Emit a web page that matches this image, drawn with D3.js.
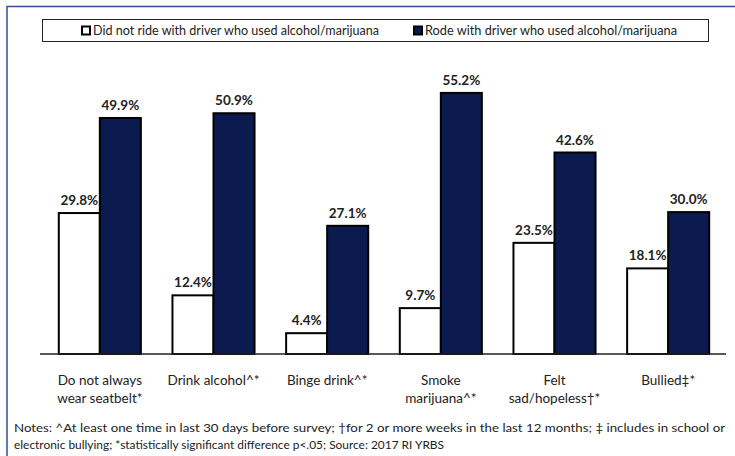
<!DOCTYPE html>
<html>
<head>
<meta charset="utf-8">
<script src="https://cdn.jsdelivr.net/npm/d3@7"></script>
<style>
  body { margin: 0; background: #fff; }
  svg { display: block; font-family: Lato, "Open Sans", sans-serif; }
</style>
</head>
<body>
<svg id="chart" width="735" height="456"></svg>
<script>
// Data
const categories = [
    ['Do not always', 'wear seatbelt*'],
    ['Drink alcohol^*'],
    ['Binge drink^*'],
    ['Smoke', 'marijuana^*'],
    ['Felt', 'sad/hopeless\u2020*'],
    ['Bullied\u2021*']
];
const seriesNames = ['Did not ride with driver who used alcohol/marijuana',
                     'Rode with driver who used alcohol/marijuana'];
const didNotRide = [29.8, 12.4, 4.4, 9.7, 23.5, 18.1];
const rodeWith = [49.9, 50.9, 27.1, 55.2, 42.6, 30.0];
const notes = [
    'Notes:  ^At least one time in last 30 days before survey; \u2020for 2 or more weeks in the last 12 months; \u2021 includes in school or',
    'electronic bullying; *statistically significant difference p<.05; Source: 2017 RI YRBS'
];

const colors = ['#ffffff', '#0b1a4f'];
const svg = d3.select('#chart');

// Outer frame (left + top blue rule)
svg.append('path')
    .attr('d', 'M7,456 V6.5 H735')
    .attr('fill', 'none')
    .attr('stroke', '#2d4c9c')
    .attr('stroke-width', 1.5);

// Legend box
const legend = svg.append('g');
legend.append('rect')
    .attr('x', 42.5).attr('y', 19.5)
    .attr('width', 666).attr('height', 22)
    .attr('fill', '#fff')
    .attr('stroke', '#222')
    .attr('stroke-width', 1);

const legendX = [82, 414];
const legendW = [286, 252];
seriesNames.forEach((name, i) => {
    const g = legend.append('g').attr('transform', `translate(${legendX[i]},30.5)`);
    g.append('rect')
        .attr('x', 0).attr('y', -4)
        .attr('width', 8).attr('height', 8)
        .attr('fill', colors[i])
        .attr('stroke', '#000')
        .attr('stroke-width', 2);
    g.append('text')
        .attr('x', 11).attr('y', 4.5)
        .attr('font-size', 13)
        .attr('fill', '#222')
        .attr('textLength', legendW[i])
        .attr('lengthAdjust', 'spacingAndGlyphs')
        .text(name);
});

// Scales
const x0 = d3.scaleBand()
    .domain(d3.range(categories.length))
    .range([43, 725])
    .paddingInner(0.278)
    .paddingOuter(0.139);

const x1 = d3.scaleBand()
    .domain([0, 1])
    .range([0, x0.bandwidth()]);

const baseY = 354;
const y = d3.scaleLinear()
    .domain([0, 60])
    .range([baseY, baseY - 60 * 4.73]);

const series = [didNotRide, rodeWith];

const groups = svg.append('g')
    .selectAll('g')
    .data(categories)
    .join('g')
    .attr('transform', (d, i) => `translate(${x0(i)},0)`);

series.forEach((vals, s) => {
    groups.append('rect')
        .attr('x', x1(s))
        .attr('y', (d, i) => y(vals[i]))
        .attr('width', x1.bandwidth())
        .attr('height', (d, i) => baseY - y(vals[i]))
        .attr('fill', colors[s])
        .attr('stroke', '#000')
        .attr('stroke-width', 2);

    groups.append('text')
        .attr('x', x1(s) + x1.bandwidth() / 2)
        .attr('y', (d, i) => y(vals[i]) - 8)
        .attr('text-anchor', 'middle')
        .attr('font-size', 13.5)
        .attr('font-weight', 'bold')
        .attr('fill', '#222')
        .text((d, i) => vals[i].toFixed(1) + '%');
});

// Baseline
svg.append('line')
    .attr('x1', 40).attr('x2', 726)
    .attr('y1', baseY).attr('y2', baseY)
    .attr('stroke', '#222')
    .attr('stroke-width', 1.5);

// Category labels
groups.append('text')
    .attr('x', x0.bandwidth() / 2)
    .attr('y', 385)
    .attr('text-anchor', 'middle')
    .attr('font-size', 13.5)
    .attr('fill', '#222')
    .selectAll('tspan')
    .data(d => d)
    .join('tspan')
    .attr('x', x0.bandwidth() / 2)
    .attr('dy', (d, i) => i === 0 ? 0 : 18)
    .text(d => d);

// Notes
const noteW = [711, 430];
svg.append('g')
    .selectAll('text')
    .data(notes)
    .join('text')
    .attr('x', 14)
    .attr('y', (d, i) => 432 + i * 17)
    .attr('font-size', 12)
    .attr('fill', '#222')
    .attr('textLength', (d, i) => noteW[i])
    .attr('lengthAdjust', 'spacingAndGlyphs')
    .text(d => d);
</script>
</body>
</html>
